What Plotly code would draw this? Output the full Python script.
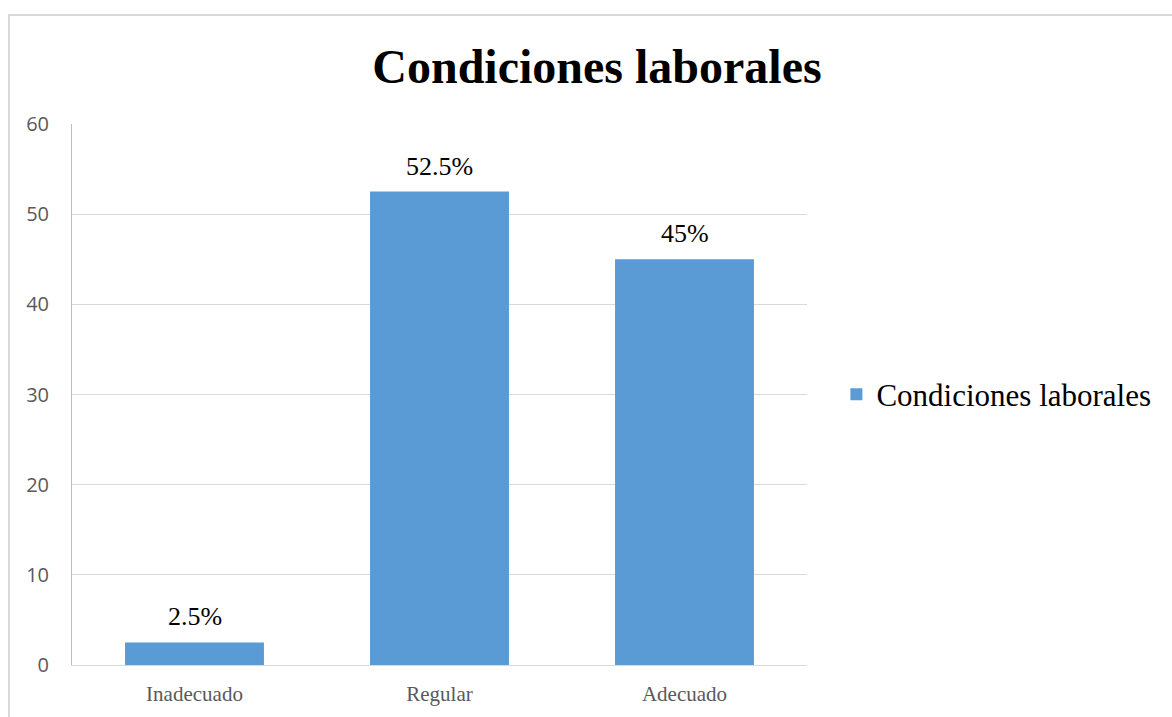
import plotly.graph_objects as go

categories = ["Inadecuado", "Regular", "Adecuado"]
values = [2.5, 52.5, 45]
series_name = "Condiciones laborales"
y_ticks = [0, 10, 20, 30, 40, 50, 60]

labels = [f"{v:g}%" for v in values]

serif = "Liberation Serif"
sans = "Open Sans"

fig = go.Figure(
    go.Bar(
        x=categories,
        y=values,
        name=series_name,
        marker=dict(color="#5b9bd5", line=dict(width=0)),
        showlegend=True,
    )
)

# value labels above each bar
for cat, val, lab in zip(categories, values, labels):
    fig.add_annotation(
        x=cat,
        y=val,
        text=lab,
        showarrow=False,
        yanchor="bottom",
        yshift=9,
        font=dict(family=serif, size=26, color="#000000"),
    )

fig.update_layout(
    width=1172,
    height=717,
    margin=dict(l=72, r=365, t=124, b=52),
    paper_bgcolor="white",
    plot_bgcolor="white",
    bargap=0.433,
    title=dict(
        text="<b>Condiciones laborales</b>",
        font=dict(family=serif, size=48, color="#000000"),
        x=(597 / 1172),
        xanchor="center",
        y=1 - 66 / 717,
        yanchor="middle",
    ),
    legend=dict(
        x=1.04,
        xanchor="left",
        y=0.5,
        yanchor="middle",
        font=dict(family=serif, size=31, color="#000000"),
        itemwidth=30,
        bgcolor="rgba(0,0,0,0)",
    ),
    xaxis=dict(
        showline=True,
        linecolor="#d9d9d9",
        linewidth=1,
        tickfont=dict(family=serif, size=21, color="#595959"),
        ticks="",
        ticklabelstandoff=10,
    ),
    yaxis=dict(
        range=[0, 60],
        tickvals=y_ticks,
        showgrid=True,
        gridcolor="#d9d9d9",
        gridwidth=1,
        showline=True,
        linecolor="#bfbfbf",
        linewidth=1,
        zeroline=False,
        tickfont=dict(family=sans, size=20, color="#595959"),
        ticks="",
        ticklabelstandoff=18,
    ),
    shapes=[
        dict(
            type="rect",
            xref="paper",
            yref="paper",
            x0=(9 - 72) / 735,
            x1=2.0,
            y0=-1.0,
            y1=(665 - 15) / 541,
            line=dict(color="#d9d9d9", width=2),
            fillcolor="rgba(0,0,0,0)",
            layer="below",
        )
    ],
)

fig.write_html("out.html")
